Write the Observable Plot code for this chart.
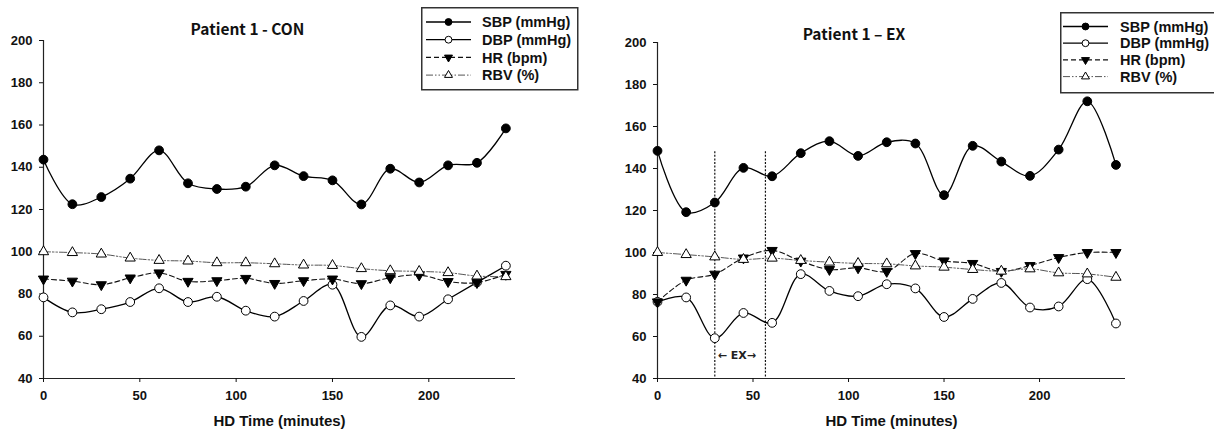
<!DOCTYPE html>
<html><head><meta charset="utf-8">
<script src="https://cdn.jsdelivr.net/npm/d3@7"></script>
<script src="https://cdn.jsdelivr.net/npm/@observablehq/plot@0.6"></script>
<style>
html,body{margin:0;padding:0;background:#fff;overflow:hidden;}
#wrap{position:relative;width:1214px;height:431px;overflow:hidden;background:#fff;}
.panel{position:absolute;top:0;}
.title{position:absolute;font-family:"Noto Sans CJK KR","Noto Sans",sans-serif;font-weight:700;font-size:15.5px;transform:translate(-50%,-50%);white-space:nowrap;color:#111;}
.legend{position:absolute;overflow:visible;}
</style></head><body><div id="wrap"></div>
<script>
// ---------- data ----------
const time = [0,15,30,45,60,75,90,105,120,135,150,165,180,195,210,225,240];
const conSBP = [143.6,122.5,125.9,134.6,148,132.4,129.7,130.8,140.9,135.8,133.8,122.4,139.3,132.8,140.9,142.1,158.4];
const conDBP = [78.4,71.3,72.8,76.2,82.7,76.2,78.7,72.1,69.3,76.7,84.4,59.7,74.6,69.3,77.5,85.5,93.4];
const conHR  = [87.1,86.1,84.4,87.6,90,86,86.3,87.4,85,86.3,87.1,84.9,87.7,89,85.9,85.4,89.3];
const conRBV = [100,99.6,98.9,97,95.9,95.6,94.8,94.8,94.3,93.7,93.5,92,91,90.7,90.1,88.5,88.2];
const exSBP  = [148.4,119.2,123.8,140.3,136.3,147.3,153,146,152.5,151.9,127.3,150.8,143.3,136.5,149,172,141.7];
const exDBP  = [76.5,78.6,59.2,71.2,66.5,89.7,81.7,79.2,84.9,82.9,69.3,77.9,85.5,73.8,74.3,87.3,66.2];
const exHR   = [76.5,86.8,89.7,97.4,101,95.9,91.9,92.7,91,99.5,96,94.8,91,93.8,97.6,100,100];
const exRBV  = [100,99,97.9,96.7,97.3,96.2,95.4,94.8,94.6,93.6,93,91.9,91.1,92.2,90.3,89.8,88.2];
const seriesKeys = ["SBP","DBP","HR","RBV"];
const seriesLabels = ["SBP (mmHg)","DBP (mmHg)","HR (bpm)","RBV (%)"];
const titles = ["Patient 1 - CON","Patient 1 \u2013 EX"];
const xTicks = [0,50,100,150,200];
const yTicks = [40,60,80,100,120,140,160,180,200];
const xDomain = [0,245];
const yDomain = [40,200];
const xLabel = "HD Time (minutes)";
const exBounds = [30,56.5];
const exTop = [148];
const exLabel = [{t:41.5, v:51, text:"\u2190 EX\u2192"}];

// ---------- styles ----------
const sqrt3 = Math.sqrt(3);
const triangleDown = {draw(ctx, size){const y = Math.sqrt(size/(sqrt3*3)); ctx.moveTo(0, y*2); ctx.lineTo(-sqrt3*y, -y); ctx.lineTo(sqrt3*y, -y); ctx.closePath();}};
const style = {
  SBP:{symbol:"circle", fill:"black", r:4.4, dash:null, stroke:"#000", sw:1.3},
  DBP:{symbol:"circle", fill:"white", r:4.4, dash:null, stroke:"#000", sw:1.3},
  HR:{symbol:triangleDown, fill:"black", r:3.8, dash:"5,3", stroke:"#111", sw:1.1},
  RBV:{symbol:"triangle", fill:"white", r:3.8, dash:"7,2,1.5,2,1.5,2", stroke:"#555", sw:1}
};

function rowsFor(arrs){
  const out = [];
  seriesKeys.forEach((k,i)=>time.forEach((t,j)=>out.push({key:k,t,v:arrs[i][j]})));
  return out;
}

function makePanel(arrs, m, withEx){
  const rows = rowsFor(arrs);
  const marks = [
    Plot.ruleY([yDomain[0]], {stroke:"#222", strokeWidth:1.2}),
    Plot.ruleX([xDomain[0]], {stroke:"#222", strokeWidth:1.2}),
    Plot.axisY({ticks:yTicks, tickSize:4, tickPadding:7, label:null, fontSize:13, fontWeight:"bold"}),
    Plot.axisX({ticks:xTicks, tickSize:4, tickPadding:8, label:null, fontSize:13, fontWeight:"bold"}),
    Plot.text([xLabel], {frameAnchor:"bottom", dy:43, fontSize:15, fontWeight:"bold", lineAnchor:"middle"})
  ];
  if (withEx) {
    marks.push(Plot.ruleX(exBounds, {x:d=>d, y1:exTop[0], y2:yDomain[0], stroke:"#111", strokeWidth:1.2, strokeDasharray:"2,1.6"}));
    marks.push(Plot.text(exLabel, {x:"t", y:"v", text:"text", fontSize:11, fontWeight:"bold", fontFamily:"'DejaVu Sans', sans-serif", fill:"#222"}));
  }
  seriesKeys.forEach(k=>{
    const s = style[k];
    const d = rows.filter(r=>r.key===k);
    marks.push(Plot.line(d, {x:"t", y:"v", curve:"catmull-rom", stroke:s.stroke, strokeWidth:s.sw, strokeDasharray:s.dash}));
    marks.push(Plot.dot(d, {x:"t", y:"v", symbol:s.symbol, r:s.r, fill:s.fill, stroke:"#000", strokeWidth:1}));
  });
  return Plot.plot({
    width:607, height:431,
    marginLeft:m.l, marginRight:m.r, marginTop:m.t, marginBottom:m.b,
    x:{domain:xDomain}, y:{domain:yDomain},
    style:{fontFamily:"'Liberation Sans', Arial, sans-serif", fontSize:"13px", fontWeight:"bold", color:"#111", background:"white", overflow:"visible"},
    marks
  });
}

function makeLegend(parent, pos){
  const svg = d3.select(parent).append("svg").attr("class","legend")
    .attr("width", pos.w+4).attr("height", pos.h+4)
    .style("left", pos.x+"px").style("top", pos.y+"px");
  svg.append("rect").attr("x",0.75).attr("y",0.75).attr("width",pos.w).attr("height",pos.h)
    .attr("fill","white").attr("stroke","#333").attr("stroke-width",1.5);
  seriesKeys.forEach((k,i)=>{
    const s = style[k];
    const cy = pos.row0 + i*pos.step;
    svg.append("line").attr("x1",pos.lx0).attr("x2",pos.lx1).attr("y1",cy).attr("y2",cy)
      .attr("stroke",s.stroke).attr("stroke-width",s.sw).attr("stroke-dasharray",s.dash);
    const sym = s.symbol==="circle"?d3.symbolCircle:(s.symbol==="triangle"?d3.symbolTriangle:s.symbol);
    const rr = s.r*0.78;
    svg.append("path").attr("transform",`translate(${(pos.lx0+pos.lx1)/2},${cy})`)
      .attr("d", d3.symbol(sym, rr*rr*Math.PI)()).attr("fill",s.fill).attr("stroke","#000").attr("stroke-width",1);
    svg.append("text").attr("x",pos.tx).attr("y",cy).attr("dy","0.36em").attr("text-anchor","start")
      .attr("font-family","'Liberation Sans', Arial, sans-serif").attr("font-weight","bold").attr("font-size",14.5)
      .attr("fill","#111").text(seriesLabels[i]);
  });
}

const wrap = document.getElementById("wrap");
const p1 = document.createElement("div"); p1.className="panel"; p1.style.left="0px";
p1.appendChild(makePanel([conSBP,conDBP,conHR,conRBV], {l:43,r:92,t:40,b:53}, false));
const p2 = document.createElement("div"); p2.className="panel"; p2.style.left="607px";
p2.appendChild(makePanel([exSBP,exDBP,exHR,exRBV], {l:50,r:89,t:42,b:53}, true));
wrap.appendChild(p1); wrap.appendChild(p2);

[[247.5,27.5],[854,33]].forEach((c,i)=>{
  const d = document.createElement("div"); d.className="title";
  d.style.left=c[0]+"px"; d.style.top=c[1]+"px"; d.textContent=titles[i];
  wrap.appendChild(d);
});

makeLegend(wrap, {x:421, y:7, w:156, h:82, row0:15, step:17.7, lx0:5, lx1:50, tx:61});
makeLegend(wrap, {x:1060, y:12, w:158, h:80, row0:14.5, step:16.7, lx0:3, lx1:48, tx:60});
</script></body></html>
